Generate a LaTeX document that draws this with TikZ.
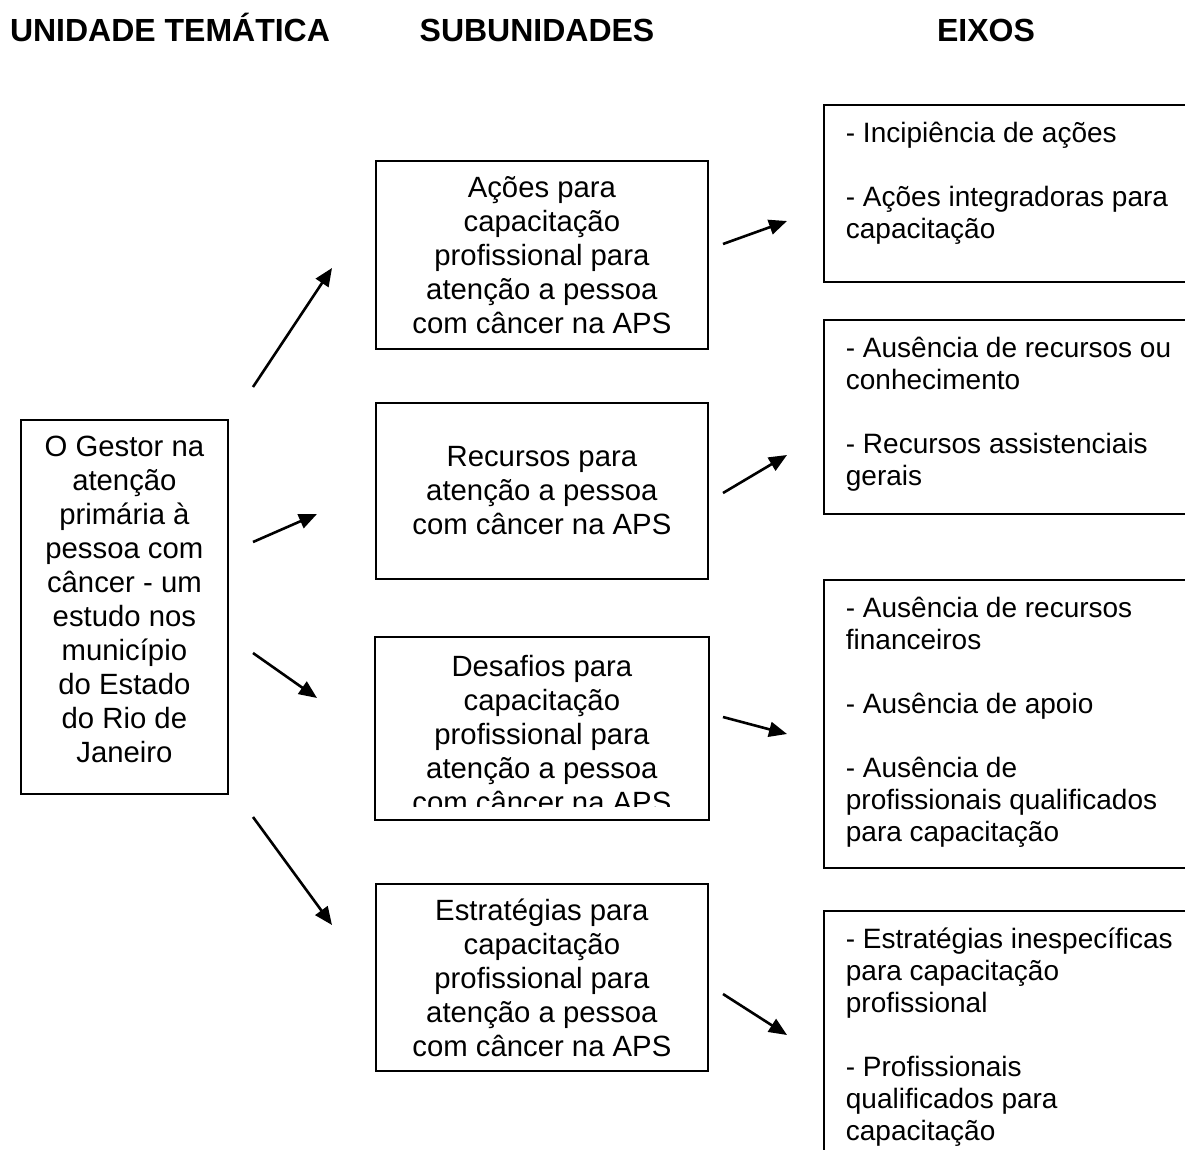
\documentclass[tikz,border=0pt]{standalone}
\usepackage{fontspec}
\setmainfont{Liberation Sans}
\usetikzlibrary{arrows.meta}

\newcommand{\eixotexto}[3]{\parbox[c][#1][t]{380pt}{\raggedright\vspace*{#2}\strut#3}}

\begin{document}
\begin{tikzpicture}[
        x=1pt, y=-1pt,
        titulo/.style={font=\fontsize{32}{36}\selectfont\bfseries, anchor=base},
        caixa/.style={draw, line width=1.8pt, anchor=north west, inner sep=0pt, align=center,
            font=\fontsize{29.3}{34}\selectfont},
        eixo/.style={draw, line width=1.8pt, anchor=north west, inner xsep=22pt, inner ysep=0pt,
            font=\fontsize{28}{32}\selectfont},
        seta/.style={line width=2.6pt, -{Triangle[length=18pt,width=15pt]}}
    ]
        \useasboundingbox (0,0) rectangle (1185,1149);
        \clip (0,0) rectangle (1185,1149);

        % Titles
        \node[titulo] (tunidade) at (170,41) {UNIDADE TEMÁTICA};
        \node[titulo] (tsub) at (537,41) {SUBUNIDADES};
        \node[titulo] (teixos) at (986,41) {EIXOS};

        % Thematic unit
        \node[caixa, minimum width=207pt, minimum height=374pt] (gestor) at (20,419)
            {O Gestor na\\atenção\\primária à\\pessoa com\\câncer - um\\estudo nos\\município\\do Estado\\do Rio de\\Janeiro\rule[-15pt]{0pt}{0pt}};

        % Subunits
        \node[caixa, minimum width=332pt, minimum height=188pt] (acoes) at (375,160)
            {Ações para\\capacitação\\profissional para\\atenção a pessoa\\com câncer na APS};
        \node[caixa, minimum width=332pt, minimum height=176pt] (recursos) at (375,402)
            {Recursos para\\atenção a pessoa\\com câncer na APS};
        \begin{scope}
            \clip (370,630) rectangle (712,806);
            \node[caixa, draw=none, minimum width=332pt, minimum height=181pt] (desafios) at (375,637)
                {\rule{0pt}{33pt}Desafios para\\capacitação\\profissional para\\atenção a pessoa\\com câncer na APS};
        \end{scope}
        \draw[line width=1.8pt] (desafios.north west) rectangle (desafios.south east);
        \node[caixa, minimum width=332pt, minimum height=187pt] (estrategias) at (375,883)
            {Estratégias para\\capacitação\\profissional para\\atenção a pessoa\\com câncer na APS};

        % Axes
        \node[eixo] (eixoA) at (823,104) {\eixotexto{177pt}{15.6pt}{- Incipiência de ações\\[32pt]
            - Ações integradoras para\\capacitação}};
        \node[eixo] (eixoB) at (823,319) {\eixotexto{194pt}{15.6pt}{- Ausência de recursos ou\\conhecimento\\[32pt]
            - Recursos assistenciais\\gerais}};
        \node[eixo] (eixoC) at (823,579) {\eixotexto{288pt}{15.6pt}{- Ausência de recursos\\financeiros\\[32pt]
            - Ausência de apoio\\[32pt]
            - Ausência de\\profissionais qualificados\\para capacitação}};
        \node[eixo] (eixoD) at (823,910) {\eixotexto{270pt}{15.6pt}{- Estratégias inespecíficas\\para capacitação\\profissional\\[32pt]
            - Profissionais\\qualificados para\\capacitação}};

        % Arrow ends
        \coordinate (s1) at (253,387); \coordinate (e1) at (332,268);
        \coordinate (s2) at (253,542); \coordinate (e2) at (317,514);
        \coordinate (s3) at (253,653); \coordinate (e3) at (317,698);
        \coordinate (s4) at (253,817); \coordinate (e4) at (332,925);
        \coordinate (s5) at (723,244); \coordinate (e5) at (787,221);
        \coordinate (s6) at (723,493); \coordinate (e6) at (787,455);
        \coordinate (s7) at (723,717); \coordinate (e7) at (787,734);
        \coordinate (s8) at (723,994); \coordinate (e8) at (787,1035);

        % Arrows
        \draw[seta] (s1) -- (e1);
        \draw[seta] (s2) -- (e2);
        \draw[seta] (s3) -- (e3);
        \draw[seta] (s4) -- (e4);
        \draw[seta] (s5) -- (e5);
        \draw[seta] (s6) -- (e6);
        \draw[seta] (s7) -- (e7);
        \draw[seta] (s8) -- (e8);
    \end{tikzpicture}
\end{document}
